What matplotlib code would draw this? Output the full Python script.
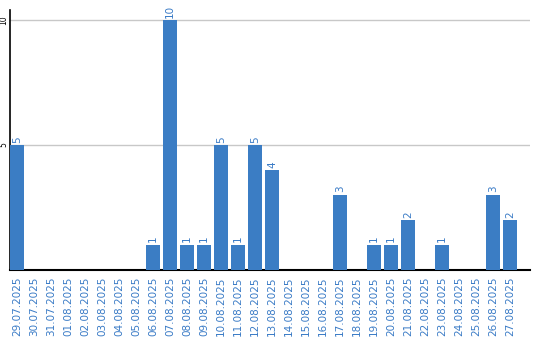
import matplotlib
matplotlib.use("Agg")
import matplotlib.pyplot as plt

dates = ["29.07.2025", "30.07.2025", "31.07.2025", "01.08.2025", "02.08.2025",
         "03.08.2025", "04.08.2025", "05.08.2025", "06.08.2025", "07.08.2025",
         "08.08.2025", "09.08.2025", "10.08.2025", "11.08.2025", "12.08.2025",
         "13.08.2025", "14.08.2025", "15.08.2025", "16.08.2025", "17.08.2025",
         "18.08.2025", "19.08.2025", "20.08.2025", "21.08.2025", "22.08.2025",
         "23.08.2025", "24.08.2025", "25.08.2025", "26.08.2025", "27.08.2025"]
values = [5, 0, 0, 0, 0, 0, 0, 0, 1, 10, 1, 1, 5, 1, 5, 4, 0, 0, 0, 3,
          0, 1, 1, 2, 0, 1, 0, 0, 3, 2]
y_ticks = [5, 10]

bar_color = "#3b7dc4"
text_color = "#3a7bc6"

fig = plt.figure(figsize=(5.4, 3.4), dpi=100)
ax = fig.add_axes([10/540, 70/340, 520/540, 260/340])

x = list(range(len(dates)))
ax.bar(x, values, width=0.82, color=bar_color, zorder=3)
for xi, v in zip(x, values):
    if v > 0:
        ax.text(xi, v + 0.1, str(v), rotation=90, ha="center", va="bottom",
                color=text_color, fontsize=7.5, zorder=4)

ax.set_xlim(-0.41, 30.18)
ax.set_ylim(0, 10.4)
ax.set_yticks(y_ticks)
ax.set_yticklabels([str(t) for t in y_ticks], rotation=90, va="center",
                   ha="right", fontsize=5.5, color="black")
ax.yaxis.grid(True, color="#c8c8c8", linewidth=1, zorder=0)
ax.tick_params(axis="y", length=0, pad=1)
ax.set_xticks(x)
ax.set_xticklabels(dates, rotation=90, fontsize=7.5, color=text_color)
ax.tick_params(axis="x", length=0, pad=5)

for s in ["top", "right"]:
    ax.spines[s].set_visible(False)
ax.spines["left"].set_linewidth(1.2)
ax.spines["bottom"].set_linewidth(1.5)
ax.spines["left"].set_color("black")
ax.spines["bottom"].set_color("black")

fig.savefig("out.png", dpi=100)
